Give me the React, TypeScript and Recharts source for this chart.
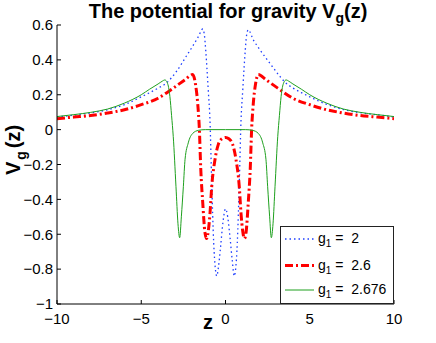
import { Legend, Line, LineChart, XAxis, YAxis } from "recharts";

// g1 = 2 (blue dotted)
const zBlue = [
  -10, -9, -8, -7, -6, -5, -4.5, -4, -3.5, -2.9, -2.3, -1.9, -1.6, -1.35, -1.25, -1.17, -1.1, -1.02, -0.92, -0.82, -0.7, -0.6,
  -0.52, -0.42, -0.3, -0.15, 0, 0.13, 0.27, 0.4, 0.52, 0.6, 0.7, 0.82, 0.92, 1.02, 1.1, 1.17, 1.25, 1.35, 1.65, 2.05, 2.64, 3.23,
  3.5, 4.02, 4.5, 5, 6, 7, 8, 9, 10
];
const vBlue = [
  0.073, 0.083, 0.096, 0.114, 0.143, 0.188, 0.212, 0.238, 0.268, 0.335, 0.425, 0.486, 0.535, 0.577, 0.54, 0.45, 0.35, 0.22, 0.05,
  -0.3, -0.65, -0.8, -0.84, -0.79, -0.68, -0.53, -0.455, -0.5, -0.62, -0.75, -0.84, -0.8, -0.65, -0.3, 0.05, 0.22, 0.35, 0.45, 0.54,
  0.572, 0.515, 0.457, 0.38, 0.305, 0.275, 0.238, 0.212, 0.188, 0.145, 0.115, 0.097, 0.085, 0.073
];

// g1 = 2.6 (red dash-dot)
const zRed = [
  -10, -9, -8, -7, -6, -5, -4, -3.1, -2.4, -1.95, -1.78, -1.65, -1.55, -1.47, -1.35, -1.22, -1.12, -1.02, -0.92, -0.82, -0.62,
  -0.43, -0.2, 0, 0.2, 0.43, 0.62, 0.82, 0.92, 1.02, 1.12, 1.22, 1.35, 1.47, 1.55, 1.65, 1.78, 1.95, 2.4, 3.1, 4, 5, 6, 7, 8, 9, 10
];
const vRed = [
  0.063, 0.072, 0.081, 0.095, 0.114, 0.143, 0.18, 0.238, 0.286, 0.316, 0.26, 0.15, 0.0, -0.22, -0.42, -0.59, -0.625, -0.58, -0.48,
  -0.33, -0.17, -0.086, -0.052, -0.045, -0.052, -0.086, -0.17, -0.33, -0.48, -0.58, -0.625, -0.59, -0.42, -0.22, 0.0, 0.15, 0.26,
  0.316, 0.286, 0.238, 0.18, 0.143, 0.114, 0.095, 0.081, 0.072, 0.063
];

// g1 = 2.676 (green solid)
const zGreen = [
  -10, -9, -8, -7, -6, -5, -4.5, -4, -3.75, -3.6, -3.45, -3.3, -3.2, -3.1, -2.94, -2.82, -2.72, -2.62, -2.5, -2.4, -2.21, -1.95,
  -1.6, -1.2, 0, 1.2, 1.6, 1.95, 2.21, 2.4, 2.5, 2.62, 2.72, 2.82, 2.94, 3.1, 3.2, 3.3, 3.45, 3.6, 3.75, 4, 4.5, 5, 6, 7, 8, 9, 10
];
const vGreen = [
  0.075, 0.086, 0.099, 0.118, 0.152, 0.2, 0.232, 0.262, 0.278, 0.285, 0.268, 0.19, 0.08, -0.04, -0.325, -0.54, -0.62, -0.5, -0.325,
  -0.17, -0.076, -0.022, -0.004, 0, 0, 0, -0.004, -0.022, -0.076, -0.17, -0.325, -0.5, -0.62, -0.54, -0.325, -0.04, 0.08, 0.19,
  0.268, 0.285, 0.278, 0.262, 0.232, 0.2, 0.152, 0.118, 0.099, 0.086, 0.075
];

const xTicks = [-10, -5, 0, 5, 10];
const yTicks = [-1, -0.8, -0.6, -0.4, -0.2, 0, 0.2, 0.4, 0.6];
const legendValues = ["2", "2.6", "2.676"];

const FONT = "'Liberation Sans', Arial, Helvetica, sans-serif";
const BLUE = "#1f3fff";
const RED = "#ff0000";
const GREEN = "#1ea01e";

function toRows(z: number[], v: number[]) {
  return z.map((x, i) => ({ z: x, v: v[i] }));
}

const blueRows = toRows(zBlue, vBlue);
const redRows = toRows(zRed, vRed);
const greenRows = toRows(zGreen, vGreen);

function formatTick(value: number) {
  return value < 0 ? "\u2212" + String(Math.abs(value)) : String(value);
}

const seriesStyles = [
  { color: BLUE, width: 1.3, dash: "1.5 3" },
  { color: RED, width: 3, dash: "8 3 2 3" },
  { color: GREEN, width: 1, dash: undefined as string | undefined }
];

function LegendBox() {
  const rows = [13, 39.5, 64];
  return (
    <svg width={114} height={78} style={{ display: "block" }}>
      <rect x={0.5} y={0.5} width={113} height={77} fill="#fff" stroke="#222" />
      {legendValues.map((val, i) => (
        <g key={val}>
          <line
            x1={5}
            x2={34}
            y1={rows[i]}
            y2={rows[i]}
            stroke={seriesStyles[i].color}
            strokeWidth={seriesStyles[i].width}
            strokeDasharray={seriesStyles[i].dash}
          />
          <text x={38} y={rows[i] + 4} fontFamily={FONT} fontSize={14} fill="#000" style={{ whiteSpace: "pre" }}>
            g
            <tspan fontSize={10} dy={4}>
              1
            </tspan>
            <tspan dy={-4}>{" =  " + val}</tspan>
          </text>
        </g>
      ))}
    </svg>
  );
}

export default function App() {
  const tickStyle = { fontSize: 15, fill: "#000", fontFamily: FONT };

  return (
    <div style={{ position: "absolute", left: 0, top: 0, width: 436, height: 343, background: "#fff" }}>
      <LineChart width={436} height={343} margin={{ top: 25, right: 42, bottom: 0, left: 0 }}>
        <XAxis
          xAxisId="bottom"
          type="number"
          dataKey="z"
          domain={[-10, 10]}
          allowDataOverflow
          ticks={xTicks}
          tickFormatter={formatTick}
          tick={tickStyle}
          tickSize={-4}
          tickMargin={13}
          height={39}
          stroke="#000"
        />
        <XAxis
          xAxisId="top"
          orientation="top"
          type="number"
          dataKey="z"
          domain={[-10, 10]}
          allowDataOverflow
          ticks={xTicks}
          tick={false}
          tickSize={-4}
          height={0}
          stroke="#000"
        />
        <YAxis
          yAxisId="left"
          type="number"
          domain={[-1, 0.6]}
          allowDataOverflow
          ticks={yTicks}
          tickFormatter={formatTick}
          tick={tickStyle}
          tickSize={-4}
          tickMargin={8}
          width={57}
          stroke="#000"
        />
        <YAxis
          yAxisId="right"
          orientation="right"
          type="number"
          domain={[-1, 0.6]}
          allowDataOverflow
          ticks={yTicks}
          tick={false}
          tickSize={-4}
          width={0}
          stroke="#000"
        />
        <Line
          xAxisId="bottom"
          yAxisId="left"
          data={blueRows}
          dataKey="v"
          type="monotone"
          stroke={BLUE}
          strokeWidth={1.3}
          strokeDasharray="1.5 3"
          dot={false}
          isAnimationActive={false}
        />
        <Line
          xAxisId="bottom"
          yAxisId="left"
          data={redRows}
          dataKey="v"
          type="monotone"
          stroke={RED}
          strokeWidth={3}
          strokeDasharray="8 3 2 3"
          dot={false}
          isAnimationActive={false}
        />
        <Line
          xAxisId="bottom"
          yAxisId="left"
          data={greenRows}
          dataKey="v"
          type="monotone"
          stroke={GREEN}
          strokeWidth={1}
          dot={false}
          isAnimationActive={false}
        />
        <Legend
          layout="horizontal"
          align="center"
          verticalAlign="middle"
          wrapperStyle={{ left: 280, top: 226, width: 114, height: 78 }}
          content={() => <LegendBox />}
        />
      </LineChart>
      <svg width={436} height={343} style={{ position: "absolute", left: 0, top: 0, pointerEvents: "none" }}>
        <text x={228} y={18} textAnchor="middle" fontFamily={FONT} fontWeight="bold" fontSize={20} fill="#000">
          The potential for gravity V
          <tspan fontSize={14} dy={5}>
            g
          </tspan>
          <tspan dy={-5}>(z)</tspan>
        </text>
        <text
          transform="translate(20,150) rotate(-90)"
          textAnchor="middle"
          fontFamily={FONT}
          fontWeight="bold"
          fontSize={20}
          fill="#000"
        >
          V
          <tspan fontSize={14} dy={6} dx={2}>
            g
          </tspan>
          <tspan dy={-6} dx={3}>
            (z)
          </tspan>
        </text>
        <text x={208} y={329} textAnchor="middle" fontFamily={FONT} fontWeight="bold" fontSize={20} fill="#000">
          z
        </text>
      </svg>
    </div>
  );
}
